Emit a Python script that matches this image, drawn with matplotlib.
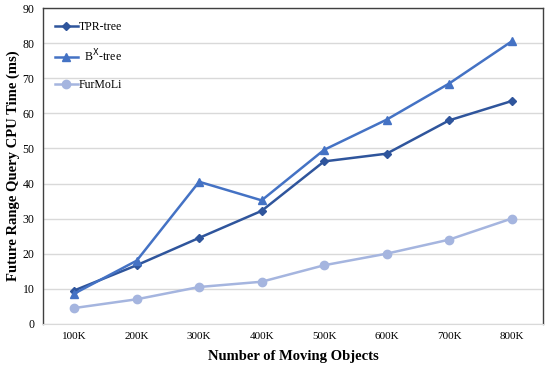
import matplotlib
matplotlib.use("Agg")
import matplotlib.pyplot as plt

categories = ["100K", "200K", "300K", "400K", "500K", "600K", "700K", "800K"]
tpr_tree = [9.5, 16.7, 24.5, 32.2, 46.3, 48.5, 58.0, 63.5]
bx_tree = [8.6, 18.0, 40.5, 35.2, 49.6, 58.2, 68.5, 80.5]
furmoli = [4.5, 7.0, 10.5, 12.0, 16.7, 20.0, 24.0, 30.0]
y_ticks = [0, 10, 20, 30, 40, 50, 60, 70, 80, 90]

plt.rcParams['font.family'] = ['Liberation Serif', 'DejaVu Serif']

fig = plt.figure(figsize=(5.5, 3.68), dpi=100)
ax = fig.add_axes([0.078, 0.12, 0.909, 0.858])

x = list(range(len(categories)))
ax.plot(x, tpr_tree, color='#2F559C', marker='D', markersize=4, linewidth=1.8, label='TPR-tree', zorder=3)
ax.plot(x, bx_tree, color='#4472C4', marker='^', markersize=6, linewidth=1.8, label='  B$^{\\mathrm{X}}$-tree', zorder=3)
ax.plot(x, furmoli, color='#A5B5DF', marker='o', markersize=6, linewidth=1.8, label='FurMoLi', zorder=3)

ax.set_xlim(-0.5, len(categories) - 0.5)
ax.set_ylim(0, 90)
ax.set_xticks(x)
ax.set_xticklabels(categories, fontsize=8)
ax.set_yticks(y_ticks)
ax.set_yticklabels([str(v) for v in y_ticks], fontsize=8.5)
ax.tick_params(length=0, pad=6)
ax.yaxis.grid(True, color='#D9D9D9', linewidth=1)
ax.set_axisbelow(True)

for side in ['top', 'right', 'left']:
    ax.spines[side].set_color('#404040')
    ax.spines[side].set_linewidth(1)
ax.spines['bottom'].set_color('#D9D9D9')

ax.set_xlabel('Number of Moving Objects', fontsize=10.5, fontweight='bold', labelpad=6)
ax.set_ylabel('Future Range Query CPU Time (ms)', fontsize=10.5, fontweight='bold', labelpad=2)

leg = ax.legend(loc='upper left', frameon=False, fontsize=8.5, labelspacing=1.25,
                handlelength=1.9, handletextpad=0.1, borderaxespad=0.3,
                bbox_to_anchor=(0.008, 0.985))

fig.savefig('out.png', dpi=100)
